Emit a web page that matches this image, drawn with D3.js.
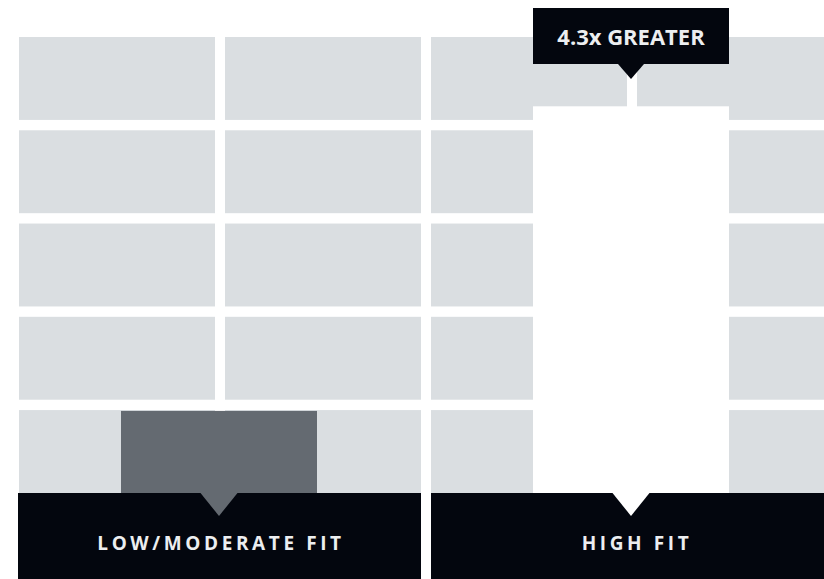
<!DOCTYPE html>
<html>
<head>
<meta charset="utf-8">
<script src="https://cdn.jsdelivr.net/npm/d3@7"></script>
<style>
  html, body { margin: 0; padding: 0; background: #ffffff; }
  svg { display: block; }
  text { font-family: "Open Sans", "Noto Sans", sans-serif; font-weight: 700; }
</style>
</head>
<body>
<svg id="chart" width="824" height="579"></svg>
<script>
// ---- data ----
const groups = ["LOW/MODERATE FIT", "HIGH FIT"];
const values = [0.9, 4.24];            // relative bar heights (grid units)
const gridColumns = [0, 1, 2, 3];
const gridRows = [0, 1, 2, 3, 4];
const annotation = "4.3x GREATER";
const barColors = ["#646a71", "#ffffff"];

const W = 824, H = 579;
const svg = d3.select("#chart");

const gLeft = 19, gRight = 833, gTop = 37, gBase = 493;

const colX = d3.scaleBand().domain(gridColumns).range([gLeft, gRight]).paddingInner(10 / 206);
const rowY = d3.scaleBand().domain(gridRows).range([gTop, gBase]).paddingInner(0.111);
const groupX = d3.scaleBand().domain(groups).range([gLeft - 1, gRight - 1]).paddingInner(10 / 412);
const y = d3.scaleLinear().domain([0, 5]).range([gBase, gTop]);

// grid cells
const cells = [];
gridRows.forEach(r => gridColumns.forEach(c => cells.push({ r, c })));
svg.append("g").selectAll("rect").data(cells).join("rect")
  .attr("x", d => colX(d.c))
  .attr("y", d => rowY(d.r))
  .attr("width", colX.bandwidth())
  .attr("height", rowY.bandwidth())
  .attr("fill", "#dadee1");

const barW = colX.bandwidth();
const cx = g => groupX(g) + groupX.bandwidth() / 2;

// bars
svg.append("g").selectAll("rect").data(groups).join("rect")
  .attr("x", g => cx(g) - barW / 2)
  .attr("y", (g, i) => y(values[i]))
  .attr("width", barW)
  .attr("height", (g, i) => gBase - y(values[i]))
  .attr("fill", (g, i) => barColors[i]);

// label bands
svg.append("g").selectAll("rect").data(groups).join("rect")
  .attr("x", (g, i) => groupX(g) + i)
  .attr("y", gBase)
  .attr("width", groupX.bandwidth() + 1)
  .attr("height", H - gBase)
  .attr("fill", "#03060e");

// pointer triangles
svg.append("g").selectAll("path").data(groups).join("path")
  .attr("d", g => {
    const c = cx(g);
    return `M${c - 18.5},${gBase} L${c + 18.5},${gBase} L${c},${gBase + 23} Z`;
  })
  .attr("fill", (g, i) => barColors[i]);

// labels
svg.append("g").selectAll("text").data(groups).join("text")
  .attr("x", (g, i) => cx(g) + (i ? 6 : 2))
  .attr("y", 550)
  .attr("text-anchor", "middle")
  .attr("font-size", 19)
  .attr("letter-spacing", 3.6)
  .attr("fill", "#eceef0")
  .text(g => g);

// annotation
const hg = groups[1];
const ac = cx(hg);
const ann = svg.append("g");
ann.append("rect")
  .attr("x", ac - barW / 2)
  .attr("y", 8)
  .attr("width", barW)
  .attr("height", 56)
  .attr("fill", "#03060e");
ann.append("path")
  .attr("d", `M${ac - 13},64 L${ac + 13},64 L${ac},79 Z`)
  .attr("fill", "#03060e");
ann.append("text")
  .attr("x", ac)
  .attr("y", 44.5)
  .attr("text-anchor", "middle")
  .attr("font-size", 22)
  .attr("fill", "#eceef0")
  .text(annotation);
</script>
</body>
</html>
